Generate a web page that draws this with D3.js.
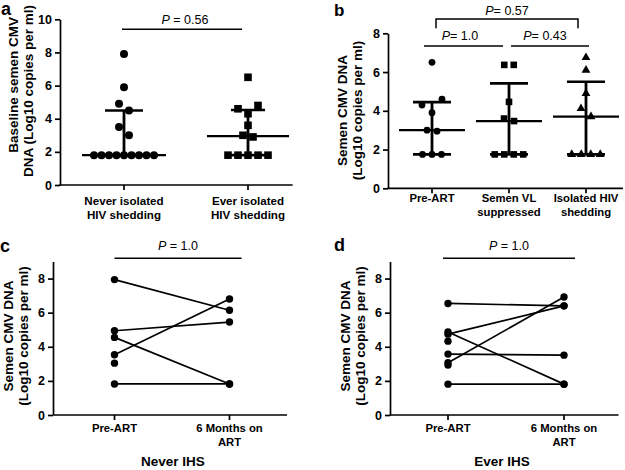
<!DOCTYPE html>
<html><head><meta charset="utf-8">
<script src="https://cdn.jsdelivr.net/npm/d3@7"></script>
<style>
body{margin:0;background:#fff;}
svg{font-family:"Liberation Sans",Arial,sans-serif;}
</style></head>
<body><svg id="chart" width="625" height="470"></svg>
<script>
// ---------- data ----------
const aCategories = ["Never isolated|HIV shedding", "Ever isolated|HIV shedding"];
const aNever = [7.9, 5.9, 4.9, 4.5, 3.5, 3.0, 1.8, 1.8, 1.8, 1.8, 1.8, 1.8, 1.8, 1.8, 1.8];
const aEver = [6.5, 4.8, 4.6, 4.3, 3.6, 3.0, 2.9, 1.8, 1.8, 1.8, 1.8, 1.8];
const aTicks = [0, 2, 4, 6, 8, 10];

const bCategories = ["Pre-ART", "Semen VL|suppressed", "Isolated HIV|shedding"];
const bPre = [6.5, 4.6, 4.3, 3.9, 3.0, 2.95, 1.75, 1.75, 1.75];
const bSuppressed = [6.37, 6.37, 4.46, 3.6, 3.47, 1.75, 1.75, 1.75, 1.75];
const bIsolated = [6.75, 6.1, 4.9, 4.12, 3.7, 1.75, 1.75, 1.75, 1.75];
const bTicks = [0, 2, 4, 6, 8];

const cdCategories = ["Pre-ART", "6 Months on|ART"];
const cdTicks = [0, 2, 4, 6, 8];
const cPre  = [7.94, 4.94, 3.53, 4.55, 1.82, 3.04];
const cPost = [6.14, 5.45, 6.8, 1.82, 1.82, null];
const dPre  = [6.54, 4.74, 3.06, 4.87, 3.57, 1.81, 4.33, 2.93];
const dPost = [6.4, 6.4, 6.92, 1.81, 3.51, 1.81, null, null];

// ---------- helpers ----------
const svg = d3.select("#chart");
const FONT_B = "bold";

function quant(sorted, p) {
  const n = sorted.length, h = (n + 1) * p, lo = Math.floor(h), f = h - lo;
  if (lo < 1) return sorted[0];
  if (lo >= n) return sorted[n - 1];
  return sorted[lo - 1] + f * (sorted[lo] - sorted[lo - 1]);
}

// GraphPad-like horizontal spreading of points
function offsets(vals, y, tieStep, maxW) {
  const idx = vals.map((v, i) => i).sort((a, b) => vals[b] - vals[a]);
  const units = [];
  idx.forEach(i => {
    const last = units[units.length - 1];
    if (last && vals[last[0]] === vals[i]) last.push(i); else units.push([i]);
  });
  const off = new Array(vals.length).fill(0);
  let cluster = [];
  function flush() {
    const m = cluster.length;
    let pat;
    if (m === 1) pat = [0];
    else if (m === 2) pat = [-5, 5];
    else if (m === 3) pat = [10, -10, 0];
    else pat = cluster.map((d, k) => (k - (m - 1) / 2) * 10);
    cluster.forEach((i, k) => off[i] = pat[k]);
    cluster = [];
  }
  units.forEach(u => {
    if (u.length > 1) {
      flush();
      const st = Math.min(tieStep, maxW / (u.length - 1));
      u.forEach((i, k) => off[i] = (k - (u.length - 1) / 2) * st);
    } else {
      const i = u[0];
      if (cluster.length) {
        const prev = cluster[cluster.length - 1];
        if (Math.abs(y(vals[prev]) - y(vals[i])) >= 9) flush();
      }
      cluster.push(i);
    }
  });
  flush();
  return off;
}

function yAxis(g, y, x0, ticks, fs) {
  const ax = g.append("g").attr("transform", `translate(${x0},0)`)
    .call(d3.axisLeft(y).tickValues(ticks).tickSize(5).tickPadding(3).tickSizeOuter(0).tickFormat(d3.format("d")));
  ax.select(".domain").attr("stroke", "#000").attr("stroke-width", 1.7);
  ax.selectAll(".tick line").attr("stroke", "#000").attr("stroke-width", 1.7);
  ax.selectAll(".tick text").attr("fill", "#000").attr("font-size", fs).attr("font-weight", FONT_B)
    .attr("font-family", "Liberation Sans, Arial, sans-serif");
}

function xAxis(g, x, yPos, dmin, dmax, cats, fs, lab0, labGap) {
  g.append("line").attr("x1", x(dmin)).attr("x2", x(dmax)).attr("y1", yPos).attr("y2", yPos)
    .attr("stroke", "#000").attr("stroke-width", 1.7);
  cats.forEach((c, i) => {
    g.append("line").attr("x1", x(i)).attr("x2", x(i)).attr("y1", yPos).attr("y2", yPos + 5)
      .attr("stroke", "#000").attr("stroke-width", 1.7);
    const t = g.append("text").attr("text-anchor", "middle").attr("font-size", fs).attr("font-weight", FONT_B);
    c.split("|").forEach((line, k) => {
      t.append("tspan").attr("x", x(i)).attr("y", lab0 + k * labGap).text(line);
    });
  });
}

function yLabel(g, lines, xs, ys, anchor, fs) {
  lines.forEach((l, k) => {
    g.append("text").attr("transform", `translate(${xs[k]},${ys[k]}) rotate(-90)`)
      .attr("text-anchor", anchor).attr("font-size", fs).attr("font-weight", FONT_B).text(l);
  });
}

function pText(g, x, y, label, fs) {
  const t = g.append("text").attr("x", x).attr("y", y).attr("text-anchor", "middle").attr("font-size", fs);
  t.append("tspan").attr("font-style", "italic").text("P");
  t.append("tspan").text(label);
}

function hline(g, x1, x2, y, w) {
  g.append("line").attr("x1", x1).attr("x2", x2).attr("y1", y).attr("y2", y)
    .attr("stroke", "#000").attr("stroke-width", w || 1.5);
}

function drawMarker(g, shape, cx, cy, r) {
  if (shape === "circle") {
    g.append("circle").attr("cx", cx).attr("cy", cy).attr("r", r).attr("fill", "#000");
  } else if (shape === "square") {
    g.append("rect").attr("x", cx - r).attr("y", cy - r).attr("width", 2 * r).attr("height", 2 * r).attr("fill", "#000");
  } else {
    g.append("path").attr("transform", `translate(${cx},${cy})`)
      .attr("d", d3.symbol(d3.symbolTriangle, r * r * 2.6)()).attr("fill", "#000");
  }
}

function scatterGroup(g, vals, xc, y, shape, r, tieStep, maxW, medHalf, capHalf) {
  const s = vals.slice().sort((a, b) => a - b);
  const med = d3.median(s), q1 = quant(s, 0.25), q3 = quant(s, 0.75);
  g.append("line").attr("x1", xc).attr("x2", xc).attr("y1", y(q1)).attr("y2", y(q3))
    .attr("stroke", "#000").attr("stroke-width", 2.8);
  hline(g, xc - capHalf, xc + capHalf, y(q3), 2.6);
  hline(g, xc - capHalf, xc + capHalf, y(q1), 2.6);
  hline(g, xc - medHalf, xc + medHalf, y(med), 2.2);
  const off = offsets(vals, y, tieStep, maxW);
  vals.forEach((v, i) => drawMarker(g, shape, xc + off[i], y(v), r));
}

// ---------- panel a ----------
{
  const g = svg.append("g");
  const y = d3.scaleLinear().domain([0, 10]).range([185, 19.3]);
  const x = d3.scaleLinear().domain([0, 1]).range([124, 248]);
  yAxis(g, y, 60, aTicks, 12.5);
  xAxis(g, x, 185, -0.52, 1.36, aCategories, 11.6, 205, 13.5);
  scatterGroup(g, aNever, x(0), y, "circle", 4, 10, 60, 42, 19);
  scatterGroup(g, aEver, x(1), y, "square", 3.8, 10, 60, 41, 17);
  hline(g, x(0) - 2, x(1) - 6, 29.3, 1.5);
  pText(g, 185, 23.5, " = 0.56", 12.5);
  yLabel(g, ["Baseline semen CMV", "DNA (Log10 copies per ml)"], [18, 33], [17, 5], "end", 13.5);
  g.append("text").attr("x", 1).attr("y", 15).attr("font-size", 18).attr("font-weight", "bold").text("a");
}

// ---------- panel b ----------
{
  const g = svg.append("g");
  const y = d3.scaleLinear().domain([0, 8]).range([188.3, 33.3]);
  const x = d3.scaleLinear().domain([0, 2]).range([432, 586]);
  yAxis(g, y, 388, bTicks, 12.5);
  xAxis(g, x, 188.3, -0.58, 2.48, bCategories, 11.3, 202, 13.5);
  scatterGroup(g, bPre, x(0), y, "circle", 3.4, 9.5, 60, 33, 19);
  scatterGroup(g, bSuppressed, x(1), y, "square", 3.3, 9.5, 60, 33, 19);
  scatterGroup(g, bIsolated, x(2), y, "triangle", 3.6, 9.5, 60, 33, 19);
  g.append("path").attr("d", `M${x(0) + 4},28.3V19H${x(2) - 8}V28.3`)
    .attr("fill", "none").attr("stroke", "#000").attr("stroke-width", 1.5);
  pText(g, 507, 15, "= 0.57", 12.5);
  hline(g, x(0) - 8, x(1) - 6, 46, 1.5);
  pText(g, 460, 40, "= 1.0", 12.5);
  hline(g, x(1) + 2, x(2) + 3, 46, 1.5);
  pText(g, 545, 40, "= 0.43", 12.5);
  yLabel(g, ["Semen CMV DNA", "(Log10 copies per ml)"], [347, 362], [110.5, 110.5], "middle", 13.5);
  g.append("text").attr("x", 334).attr("y", 16).attr("font-size", 17).attr("font-weight", "bold").text("b");
}

// ---------- panels c & d ----------
function pairedPanel(cfg) {
  const g = svg.append("g");
  const y = d3.scaleLinear().domain([0, 9]).range([415, 261.5]);
  const x = d3.scaleLinear().domain([0, 1]).range([cfg.c0, cfg.c1]);
  yAxis(g, y, cfg.ax, cdTicks, 12.5);
  xAxis(g, x, 415, cfg.dmin, cfg.dmax, cdCategories, 11.3, 432, 13.5);
  cfg.pre.forEach((v, i) => {
    const w = cfg.post[i];
    if (w != null) {
      g.append("line").attr("x1", x(0)).attr("y1", y(v)).attr("x2", x(1)).attr("y2", y(w))
        .attr("stroke", "#000").attr("stroke-width", 1.7);
    }
  });
  cfg.pre.forEach(v => drawMarker(g, "circle", x(0), y(v), 3.7));
  cfg.post.forEach(v => { if (v != null) drawMarker(g, "circle", x(1), y(v), 3.7); });
  hline(g, x(0) + cfg.p0, x(1) + cfg.p1, 258.3, 1.5);
  pText(g, cfg.pc, 250, " = 1.0", 12.5);
  yLabel(g, ["Semen CMV DNA", "(Log10 copies per ml)"], cfg.lx, [336, 336], "middle", 13.5);
  g.append("text").attr("x", cfg.tx).attr("y", 466).attr("text-anchor", "middle")
    .attr("font-size", 13.5).attr("font-weight", "bold").text(cfg.title);
  g.append("text").attr("x", cfg.lettx).attr("y", cfg.letty).attr("font-size", 18).attr("font-weight", "bold").text(cfg.letter);
}

pairedPanel({ c0: 114.5, c1: 229.5, ax: 53, dmin: -0.53, dmax: 1.5, pre: cPre, post: cPost,
  p0: 0, p1: 12, pc: 178, lx: [13, 28], tx: 173, title: "Never IHS", letter: "c", lettx: 0, letty: 252 });
pairedPanel({ c0: 448, c1: 564, ax: 390, dmin: -0.5, dmax: 1.47, pre: dPre, post: dPost,
  p0: -5, p1: 11, pc: 509, lx: [350, 365], tx: 502, title: "Ever IHS", letter: "d", lettx: 334, letty: 251 });
</script></body></html>
